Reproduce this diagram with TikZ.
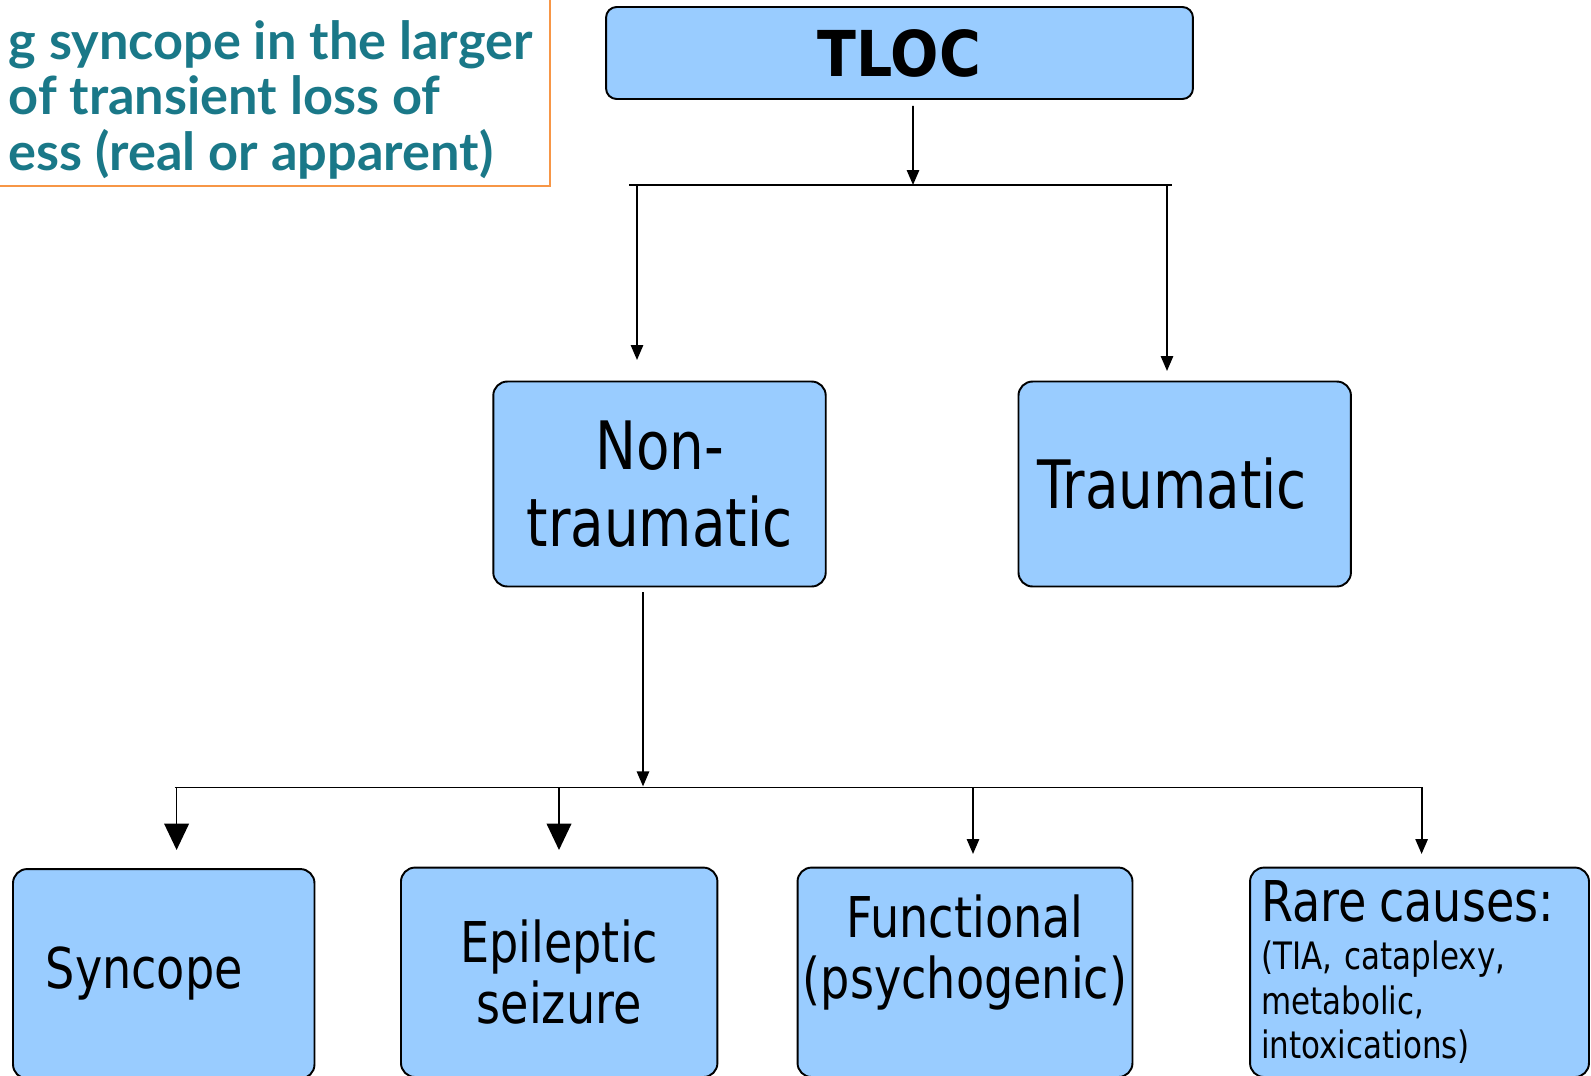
\documentclass[tikz,border=0pt]{standalone}
\usepackage{fontspec}
\setmainfont{DejaVu Sans}[FakeStretch=0.82, BoldFeatures={FakeStretch=0.9}]
\newfontfamily\ctxfont{Lato}
\usepackage{tikz}
\usetikzlibrary{arrows.meta, positioning}
\definecolor{tlocblue}{HTML}{99CCFF}
\definecolor{ctxteal}{HTML}{1A7888}
\definecolor{ctxorange}{HTML}{F79646}
\tikzset{
  box/.style={draw=black, fill=tlocblue, rounded corners=8pt, line width=1.1pt,
              align=center, inner sep=2pt},
  topbox/.style={box, rounded corners=6pt, minimum width=11.74cm, minimum height=1.84cm,
                 font=\bfseries\fontsize{36}{40}\selectfont},
  midbox/.style={box, minimum width=6.65cm, minimum height=4.1cm,
                 font=\fontsize{38}{43.7}\selectfont},
  lowbox/.style={box, minimum height=4.19cm, font=\fontsize{32}{34.6}\selectfont},
  ctxbox/.style={draw=ctxorange, line width=0.9pt, text=ctxteal, align=left,
                 font=\ctxfont\bfseries\fontsize{29.8}{31.6}\selectfont,
                 inner xsep=10pt, inner ysep=4pt, text height=120pt},
  flow/.style={-{Triangle[width=7pt,length=8.5pt]}, line width=1pt},
  flowbig/.style={-{Triangle[width=14pt,length=15pt]}, line width=1pt},
  bar/.style={line width=1pt},
}
\begin{document}
\frenchspacing
\begin{tikzpicture}[x=0.02cm, y=-0.02cm]
  \useasboundingbox (0,0) rectangle (1591,1075);
  \clip (0,0) rectangle (1591,1075);

  % slide title box, cut by the page edge
  \node[ctxbox, anchor=south east] (context) at (551,187)
    {g syncope in the larger\\ of transient loss of\\ ess (real or apparent)};

  \node[topbox] (tloc) at (899.5,53) {TLOC};
  \node[midbox, text depth=0pt] (nontrauma) at (659.5,484) {Non-\\traumatic};
  \node[midbox, align=left, text width=5.9cm, inner xsep=0.37cm] (trauma) at (1184.7,484) {Traumatic};

  \node[lowbox, minimum width=6.03cm, align=left, text width=4.72cm, inner xsep=0.654cm]
    (syncope) at (163.75,973.8) {Syncope};
  \node[lowbox, minimum width=6.33cm] (epilepsy) at (559.2,972.3) {Epileptic\\ seizure};
  \node[lowbox, minimum width=6.7cm, text depth=29pt] (functional) at (965,972.3)
    {Functional\\ (psychogenic)};
  \node[lowbox, minimum width=6.78cm, align=left, text width=6.34cm, inner xsep=0.22cm,
        font=\fontsize{21.5}{25.5}\selectfont] (rare) at (1419.5,972.3)
    {{\fontsize{32}{34.6}\selectfont Rare causes:}\\[1.5pt] (TIA, cataplexy,\\ metabolic,\\ intoxications)};

  % first split
  \coordinate (splitA) at (913,185);
  \coordinate (barAl) at (629,185);
  \coordinate (barAr) at (1172,185);
  \coordinate (ntin) at (637,360);
  \coordinate (trin) at (1167,371);
  \draw[flow] ([shift={(13.5,6)}]tloc.south) -- (splitA);
  \draw[bar] (barAl) -- (barAr);
  \draw[flow] (ntin |- barAl) -- (ntin);
  \draw[flow] (trin |- barAl) -- (trin);

  % second split
  \coordinate (splitB) at (643,786.4);
  \coordinate (barBl) at (174.5,787.4);
  \coordinate (barBr) at (1421.6,787.4);
  \coordinate (syin) at (176.6,850);
  \coordinate (epin) at (559,850);
  \coordinate (fuin) at (973,854);
  \coordinate (rain) at (1421.6,854);
  \draw[flow] ([shift={(-16.5,5)}]nontrauma.south) -- (splitB);
  \draw[bar] (barBl) -- (barBr);
  \draw[flowbig] (syin |- barBl) -- (syin);
  \draw[flowbig] (epin |- barBl) -- (epin);
  \draw[flow] (fuin |- barBl) -- (fuin);
  \draw[flow] (rain |- barBl) -- (rain);
\end{tikzpicture}
\end{document}
